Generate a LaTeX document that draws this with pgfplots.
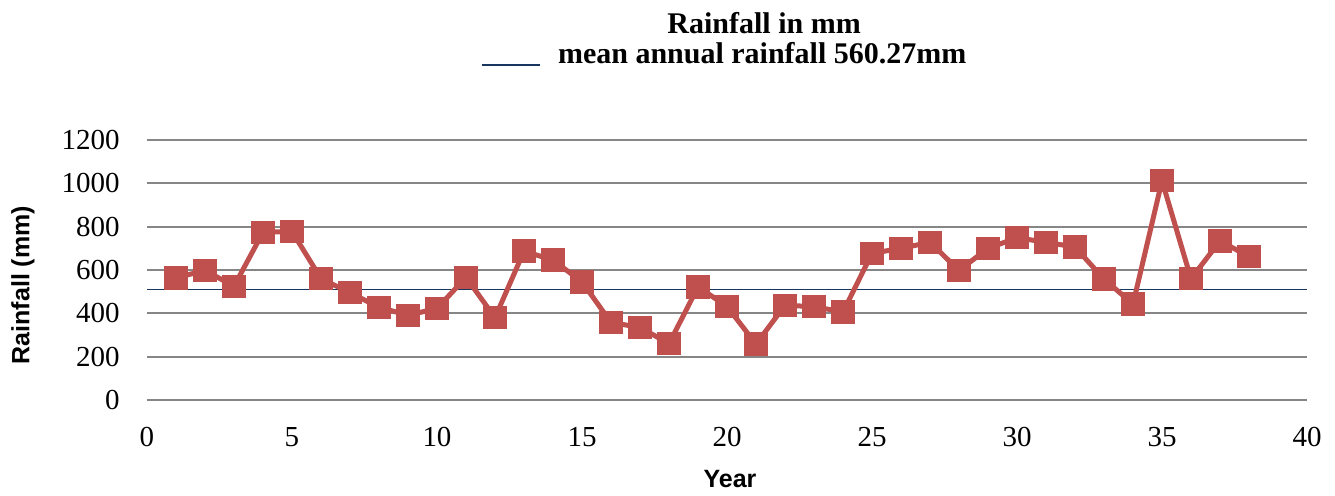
\documentclass[border=0pt]{standalone}
\usepackage{pgfplots}
\pgfplotsset{compat=1.18}
\usepackage{fontspec}
\setmainfont{Liberation Serif}
\setsansfont{Liberation Sans}
\definecolor{exred}{HTML}{C0504D}
\definecolor{meanblue}{HTML}{17375E}
\definecolor{gridgray}{HTML}{868686}
\begin{document}
\begin{tikzpicture}
\begin{axis}[
    scale only axis,
    width=580pt, height=130pt,
    xmin=0, xmax=40,
    ymin=0, ymax=1200,
    xtick={0,5,...,40},
    ytick={0,200,...,1200},
    ymajorgrids=true,
    grid style={gridgray, line width=1pt},
    axis line style={draw=none},
    major tick style={draw=none},
    tick label style={font=\fontsize{14.5}{16}\selectfont},
    /pgf/number format/assume math mode=true,
    /pgf/number format/1000 sep={},
    yticklabel style={anchor=east, inner xsep=0pt, xshift=-13.5pt},
    xticklabel style={anchor=center, yshift=-18.5pt},
    xlabel={\sffamily\bfseries Year},
    ylabel={\sffamily\bfseries Rainfall (mm)},
    label style={font=\fontsize{12.5}{14}\selectfont},
    xlabel style={at={(axis description cs:0.5026,-0.304)}, anchor=center},
    ylabel style={at={(axis description cs:-0.1069,0.442)}, anchor=center},
    clip=false,
]
\addplot[meanblue, line width=0.7pt] coordinates {(0,511) (40,511)};
\addplot[exred, line width=2.5pt, mark=square*, mark size=4.6pt,
    mark options={solid, fill=exred}] coordinates {
    (1,564)(2,598)(3,525)(4,774)(5,778)(6,560)(7,495)(8,428)(9,391)(10,423)
    (11,566)(12,380)(13,687)(14,646)(15,545)(16,358)(17,335)(18,260)(19,522)(20,432)
    (21,258)(22,437)(23,431)(24,406)(25,677)(26,700)(27,728)(28,598)(29,700)(30,749)
    (31,728)(32,706)(33,558)(34,443)(35,1012)(36,560)(37,734)(38,662)
};
% title and legend for the mean line
\node[font=\fontsize{15}{17}\selectfont\bfseries] at (axis description cs:0.532,1.45) {Rainfall in mm};
\draw[meanblue, line width=0.7pt] (axis description cs:0.2888,1.2885) -- (axis description cs:0.3388,1.2885);
\node[anchor=base west, inner sep=0pt, font=\fontsize{15}{17}\selectfont\bfseries] at (axis description cs:0.354,1.296) {mean annual rainfall 560.27mm};
\coordinate (O) at (axis description cs:0,0);
\end{axis}
\pgfresetboundingbox
\path ([shift={(-73.5pt,-47.5pt)}]O) rectangle ([shift={(594pt,200pt)}]O);
\end{tikzpicture}
\end{document}
